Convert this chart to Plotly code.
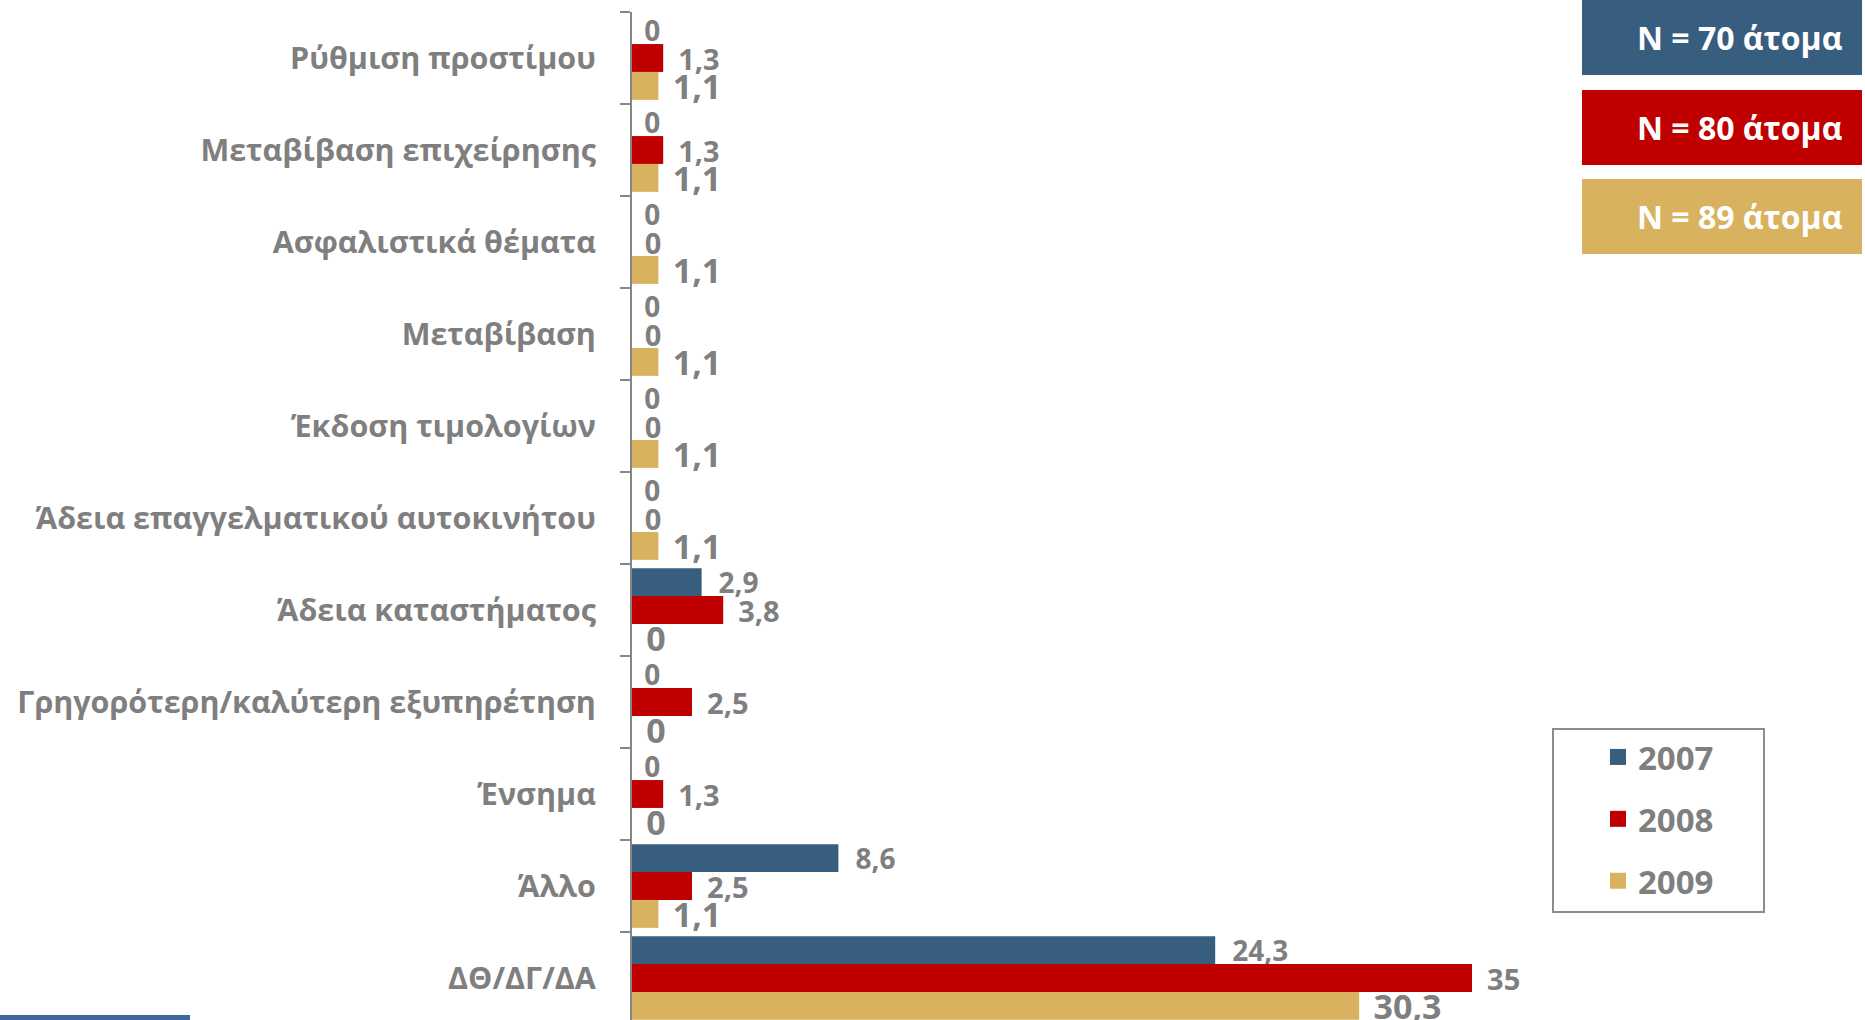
import plotly.graph_objects as go

categories = [
    "Ρύθμιση προστίμου",
    "Μεταβίβαση επιχείρησης",
    "Ασφαλιστικά θέματα",
    "Μεταβίβαση",
    "Έκδοση τιμολογίων",
    "Άδεια επαγγελματικού αυτοκινήτου",
    "Άδεια καταστήματος",
    "Γρηγορότερη/καλύτερη εξυπηρέτηση",
    "Ένσημα",
    "Άλλο",
    "ΔΘ/ΔΓ/ΔΑ",
]
years = ["2007", "2008", "2009"]
values_2007 = [0, 0, 0, 0, 0, 0, 2.9, 0, 0, 8.6, 24.3]
values_2008 = [1.3, 1.3, 0, 0, 0, 0, 3.8, 2.5, 1.3, 2.5, 35]
values_2009 = [1.1, 1.1, 1.1, 1.1, 1.1, 1.1, 0, 0, 0, 1.1, 30.3]
sample_labels = ["N = 70 άτομα", "N = 80 άτομα", "N = 89 άτομα"]

colors = ["#375E7F", "#C00000", "#D9B25F"]
label_sizes = [28, 29, 34]
spacers = ["\u2002", "\u2005\u2009", "\u2004"]
GRAY = "#7F7F7F"
FONT = "Open Sans"

W, H = 1865, 1020
PL, PR, PT, PB = 632, 1592, 12, 1020  # plot area in pixels


def px_x(x):
    return (x - PL) / (PR - PL)


def px_y(y):
    return 1 - (y - PT) / (PB - PT)


def fmt(v, sp):
    s = f"{v:g}".replace(".", ",")
    return (sp if v else "\u2004") + s


fig = go.Figure()
for name, vals, col, ts, sp in zip(years, [values_2007, values_2008, values_2009],
                                   colors, label_sizes, spacers):
    fig.add_trace(go.Bar(
        y=categories, x=vals, orientation="h", name=name,
        marker=dict(color=col, line=dict(width=0)),
        text=[fmt(v, sp) for v in vals], textposition="outside",
        textfont=dict(family=FONT, size=ts, color=GRAY, weight="bold"),
        constraintext="none", cliponaxis=False, showlegend=False,
        hoverinfo="skip",
    ))

# legend entries
for i, (name, col) in enumerate(zip(years, colors)):
    fig.add_trace(go.Scatter(
        x=[None], y=[None], mode="markers", name=name,
        marker=dict(symbol="square", size=21, color=col),
        legendgroup=f"g{i}", showlegend=True,
    ))

shapes = []
annotations = []
box_y = [(0, 75), (90, 165), (179, 254)]
for (y0, y1), col, txt in zip(box_y, colors, sample_labels):
    shapes.append(dict(type="rect", xref="paper", yref="paper",
                       x0=px_x(1582), x1=px_x(1862), y0=px_y(y1), y1=px_y(y0),
                       fillcolor=col, line=dict(width=0), layer="below"))
    annotations.append(dict(xref="paper", yref="paper", x=px_x(1844), y=px_y((y0 + y1) / 2),
                            xanchor="right", yanchor="middle", showarrow=False,
                            text=txt, font=dict(family=FONT, size=32, color="white", weight="bold")))

# legend frame
shapes.append(dict(type="rect", xref="paper", yref="paper",
                   x0=px_x(1553), x1=px_x(1764), y0=px_y(912), y1=px_y(729),
                   fillcolor="rgba(0,0,0,0)", line=dict(color="#8C8C8C", width=2)))
# decorative bar bottom-left
shapes.append(dict(type="rect", xref="paper", yref="paper",
                   x0=px_x(0), x1=px_x(190), y0=px_y(1020), y1=px_y(1015),
                   fillcolor="#41689A", line=dict(width=0)))

fig.update_layout(
    width=W, height=H, autosize=False,
    margin=dict(l=PL, r=W - PR, t=PT, b=H - PB, pad=0),
    paper_bgcolor="white", plot_bgcolor="white",
    barmode="group", bargap=0.09, bargroupgap=0,
    font=dict(family=FONT, color=GRAY),
    xaxis=dict(range=[0, 40], visible=False, fixedrange=True),
    yaxis=dict(
        type="category", categoryorder="array", categoryarray=categories,
        range=[10.5 - 4 / 92, -0.5],
        showline=True, linecolor="#868686", linewidth=2,
        ticks="outside", ticklen=10, tickwidth=2, tickcolor="#868686",
        tickson="boundaries", ticklabelstandoff=28,
        tickfont=dict(family=FONT, size=30.5, color=GRAY, weight="bold"),
        showgrid=False, zeroline=False, fixedrange=True,
    ),
    legend=dict(
        x=px_x(1598), y=px_y(729), xanchor="left", yanchor="top",
        xref="paper", yref="paper",
        traceorder="grouped", tracegroupgap=16,
        bgcolor="rgba(0,0,0,0)", borderwidth=0,
        font=dict(family=FONT, size=33, color=GRAY, weight="bold"),
    ),
    shapes=shapes, annotations=annotations,
)

fig.write_html("out.html", config={"displayModeBar": False},
               post_script="document.body.style.margin='0';document.body.style.overflow='hidden';")
